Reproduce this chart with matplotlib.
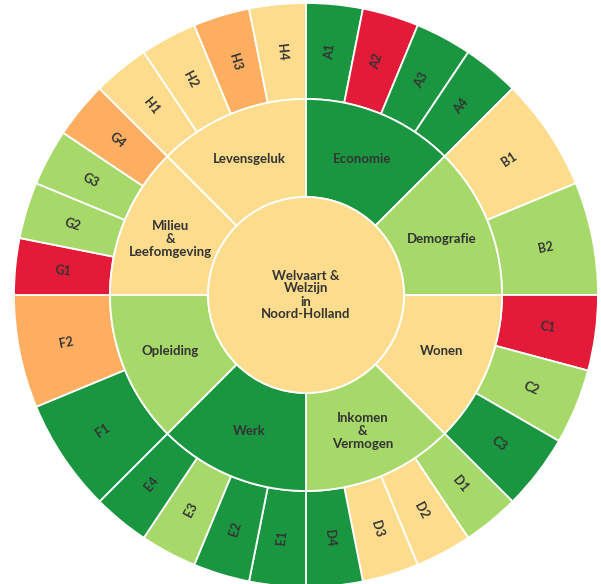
import numpy as np
import matplotlib.pyplot as plt

# themes (inner ring) and their score, indicators (outer ring) and their score
# score: 1 = slecht (rood) ... 5 = goed (donkergroen)
themes = ['Economie', 'Demografie', 'Wonen', 'Inkomen\n&\nVermogen', 'Werk',
          'Opleiding', 'Milieu\n&\nLeefomgeving', 'Levensgeluk']
theme_scores = [5, 4, 3, 4, 5, 4, 3, 3]

indicators = [['A1', 'A2', 'A3', 'A4'],
              ['B1', 'B2'],
              ['C1', 'C2', 'C3'],
              ['D1', 'D2', 'D3', 'D4'],
              ['E1', 'E2', 'E3', 'E4'],
              ['F1', 'F2'],
              ['G1', 'G2', 'G3', 'G4'],
              ['H1', 'H2', 'H3', 'H4']]
indicator_scores = [[5, 1, 5, 5],
                    [3, 4],
                    [1, 4, 5],
                    [4, 3, 3, 5],
                    [5, 5, 4, 5],
                    [5, 2],
                    [1, 4, 4, 2],
                    [3, 3, 2, 3]]

title = 'Welvaart &\nWelzijn\nin\nNoord-Holland'

score_colors = {1: '#e31a38', 2: '#fdae61', 3: '#fddd8d', 4: '#a6d96a', 5: '#1a9641'}
text_color = '#333333'

fig = plt.figure(figsize=(6.01, 5.84), dpi=100)
ax = fig.add_axes([0, 0, 1, 1])

r_center, r_inner, r_outer = 98, 196, 292
edge = dict(edgecolor='white', linewidth=1.3)

# outer ring: each theme gets the same share, split over its indicators
out_vals, out_labels, out_cols = [], [], []
for labs, scs in zip(indicators, indicator_scores):
    for lab, sc in zip(labs, scs):
        out_vals.append(1 / len(labs))
        out_labels.append(lab)
        out_cols.append(score_colors[sc])

outer, _ = ax.pie(out_vals, radius=r_outer, startangle=90, counterclock=False,
                  colors=out_cols, wedgeprops=dict(width=r_outer - r_inner, **edge))
inner, _ = ax.pie([1] * len(themes), radius=r_inner, startangle=90, counterclock=False,
                  colors=[score_colors[s] for s in theme_scores],
                  wedgeprops=dict(width=r_inner - r_center, **edge))
ax.pie([1], radius=r_center, colors=[score_colors[3]], wedgeprops=edge)

font = dict(family=['Lato', 'DejaVu Sans'], weight='bold', color=text_color)

# indicator labels along the radius
for w, lab in zip(outer, out_labels):
    mid = (w.theta1 + w.theta2) / 2
    r = (r_outer + r_inner) / 2
    x = r * np.cos(np.radians(mid))
    y = r * np.sin(np.radians(mid))
    rot = (mid + 90) % 180 - 90
    ax.text(x, y, lab, rotation=rot, rotation_mode='anchor', ha='center', va='center',
            fontsize=9, **font)

# theme labels horizontal
for w, lab in zip(inner, themes):
    mid = (w.theta1 + w.theta2) / 2
    r = (r_inner + r_center) / 2
    x = r * np.cos(np.radians(mid))
    y = r * np.sin(np.radians(mid))
    ax.text(x, y, lab, ha='center', va='center', fontsize=9.5, linespacing=1.1, **font)

ax.text(0, 0, title, ha='center', va='center', fontsize=9.5, linespacing=1.1, **font)

ax.set_xlim(-306, 295)
ax.set_ylim(-289, 295)
ax.set_aspect('equal')
ax.axis('off')
fig.savefig('out.png', dpi=100)
